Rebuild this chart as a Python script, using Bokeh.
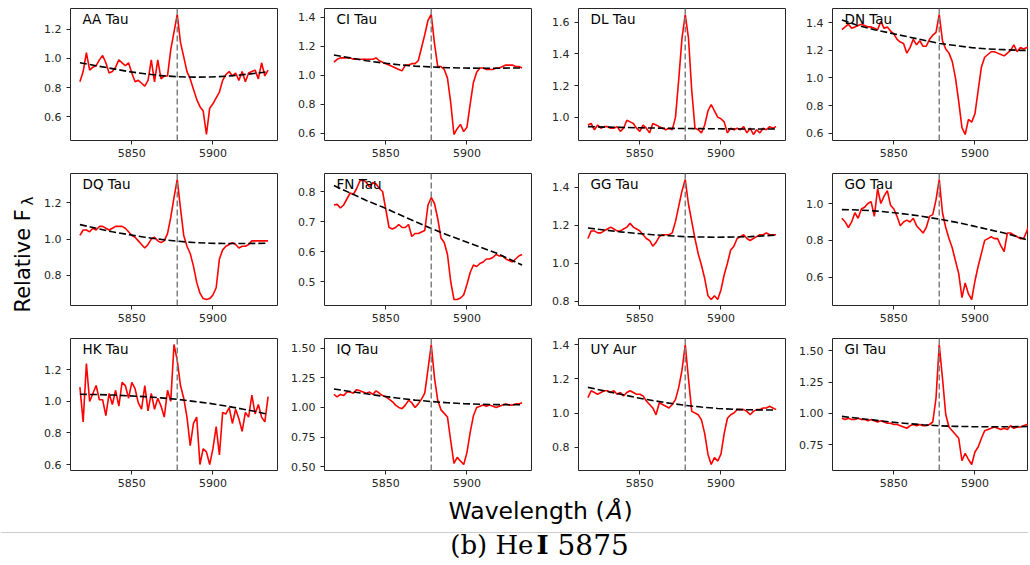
import math
from bokeh.plotting import figure
from bokeh.layouts import row, column
from bokeh.models import Range1d, FixedTicker, Span, Label
from bokeh.core.properties import value
from bokeh.embed import file_html
from bokeh.resources import INLINE

# ---------------- data ----------------
wavelength = [5818, 5820, 5822, 5824, 5826, 5828, 5830, 5832, 5834, 5836,
              5838, 5840, 5842, 5844, 5846, 5848, 5850, 5852, 5854, 5856,
              5858, 5860, 5862, 5864, 5866, 5868, 5870, 5872, 5874, 5876,
              5878, 5880, 5882, 5884, 5886, 5888, 5890, 5892, 5894, 5896,
              5898, 5900, 5902, 5904, 5906, 5908, 5910, 5912, 5914, 5916,
              5918, 5920, 5922, 5924, 5926, 5928, 5930, 5932, 5934]
cont_wavelength = [5818, 5828, 5838, 5848, 5858, 5868, 5878, 5888, 5898, 5908, 5918, 5928, 5934]
he_line = 5878
x_ticks = [5850, 5900]
x_tick_labels = ["5850", "5900"]

names = ["AA Tau", "CI Tau", "DL Tau", "DN Tau",
         "DQ Tau", "FN Tau", "GG Tau", "GO Tau",
         "HK Tau", "IQ Tau", "UY Aur", "GI Tau"]

flux_aa = [0.84, 0.91, 1.04, 0.92, 0.94, 0.95, 0.99, 1.02, 0.97, 0.90,
           0.91, 0.94, 0.99, 0.97, 0.95, 0.97, 0.90, 0.84, 0.85, 0.83,
           0.81, 0.85, 0.99, 0.84, 0.99, 0.86, 0.88, 0.88, 1.06, 1.18,
           1.30, 1.11, 1.01, 0.91, 0.86, 0.79, 0.72, 0.67, 0.64, 0.48,
           0.66, 0.69, 0.73, 0.77, 0.85, 0.89, 0.91, 0.88, 0.90, 0.85,
           0.91, 0.84, 0.90, 0.91, 0.92, 0.86, 0.97, 0.88, 0.92]
flux_ci = [1.09, 1.11, 1.12, 1.12, 1.12, 1.12, 1.11, 1.11, 1.11, 1.11,
           1.11, 1.11, 1.11, 1.12, 1.10, 1.09, 1.08, 1.07, 1.06, 1.05,
           1.04, 1.03, 1.07, 1.07, 1.08, 1.08, 1.10, 1.19, 1.28, 1.38,
           1.42, 1.22, 1.06, 1.06, 1.04, 0.98, 0.81, 0.59, 0.63, 0.66,
           0.61, 0.64, 0.80, 0.95, 1.02, 1.05, 1.05, 1.04, 1.04, 1.04,
           1.05, 1.05, 1.06, 1.07, 1.07, 1.07, 1.06, 1.06, 1.05]
flux_dl = [0.95, 0.96, 0.92, 0.95, 0.93, 0.94, 0.94, 0.93, 0.93, 0.94,
           0.91, 0.93, 0.98, 0.97, 0.96, 0.93, 0.91, 0.95, 0.93, 0.90,
           0.96, 0.95, 0.94, 0.93, 0.92, 0.93, 0.92, 1.00, 1.24, 1.50,
           1.65, 1.50, 1.17, 0.93, 0.92, 0.90, 0.95, 1.04, 1.08, 1.04,
           1.00, 0.99, 0.97, 0.90, 0.93, 0.92, 0.93, 0.92, 0.94, 0.90,
           0.93, 0.89, 0.92, 0.90, 0.93, 0.92, 0.94, 0.93, 0.94]
flux_dn = [1.35, 1.37, 1.39, 1.36, 1.37, 1.38, 1.39, 1.38, 1.37, 1.37,
           1.36, 1.35, 1.41, 1.36, 1.37, 1.34, 1.32, 1.28, 1.26, 1.25,
           1.18, 1.22, 1.28, 1.24, 1.27, 1.23, 1.23, 1.28, 1.31, 1.33,
           1.46, 1.27, 1.21, 1.18, 1.12, 1.00, 0.83, 0.64, 0.59, 0.70,
           0.68, 0.74, 0.91, 1.08, 1.15, 1.17, 1.19, 1.19, 1.18, 1.17,
           1.16, 1.18, 1.20, 1.24, 1.19, 1.22, 1.21, 1.22, 1.22]
flux_dq = [1.02, 1.05, 1.05, 1.04, 1.06, 1.05, 1.07, 1.07, 1.06, 1.05,
           1.06, 1.07, 1.07, 1.07, 1.06, 1.04, 1.02, 1.01, 0.99, 0.97,
           0.95, 0.97, 1.00, 1.01, 0.99, 0.98, 0.99, 1.03, 1.12, 1.23,
           1.33, 1.17, 1.02, 0.96, 0.92, 0.85, 0.76, 0.70, 0.67, 0.665,
           0.67, 0.69, 0.73, 0.89, 0.94, 0.96, 0.97, 0.98, 0.97, 0.95,
           0.96, 0.96, 0.97, 0.99, 0.99, 0.99, 0.99, 0.99, 0.99]
flux_fn = [0.755, 0.757, 0.745, 0.755, 0.775, 0.795, 0.79, 0.81, 0.835, 0.84,
           0.83, 0.815, 0.83, 0.825, 0.81, 0.80, 0.74, 0.68, 0.675, 0.68,
           0.69, 0.68, 0.68, 0.69, 0.65, 0.66, 0.66, 0.665, 0.67, 0.755,
           0.78, 0.76, 0.71, 0.645, 0.63, 0.59, 0.50, 0.44, 0.44, 0.445,
           0.455, 0.49, 0.53, 0.555, 0.55, 0.56, 0.565, 0.575, 0.575, 0.58,
           0.59, 0.585, 0.585, 0.575, 0.57, 0.565, 0.575, 0.585, 0.59]
flux_gg = [1.13, 1.17, 1.17, 1.16, 1.16, 1.17, 1.18, 1.19, 1.18, 1.17,
           1.17, 1.18, 1.19, 1.21, 1.19, 1.18, 1.17, 1.15, 1.13, 1.12,
           1.09, 1.11, 1.14, 1.15, 1.15, 1.15, 1.16, 1.22, 1.30, 1.38,
           1.44, 1.31, 1.22, 1.13, 1.05, 0.99, 0.92, 0.83, 0.81, 0.83,
           0.81, 0.86, 0.94, 1.00, 1.07, 1.09, 1.13, 1.14, 1.15, 1.13,
           1.12, 1.13, 1.14, 1.15, 1.15, 1.16, 1.15, 1.15, 1.15]
flux_go = [0.92, 0.90, 0.87, 0.90, 0.95, 0.92, 0.97, 0.98, 1.00, 1.01,
           0.93, 1.08, 1.00, 1.04, 1.07, 0.99, 0.97, 0.93, 0.88, 0.90,
           0.91, 0.90, 0.92, 0.88, 0.86, 0.84, 0.87, 0.93, 0.94, 1.02,
           1.13, 0.95, 0.87, 0.81, 0.76, 0.69, 0.62, 0.49, 0.57, 0.51,
           0.48, 0.58, 0.66, 0.73, 0.80, 0.81, 0.82, 0.81, 0.81, 0.77,
           0.74, 0.84, 0.84, 0.83, 0.82, 0.81, 0.81, 0.85, 0.90]
flux_hk = [1.09, 0.87, 1.24, 1.00, 1.05, 1.10, 1.01, 1.01, 0.91, 1.05,
           0.98, 1.07, 0.97, 1.12, 1.10, 1.02, 1.12, 1.08, 0.99, 0.95,
           1.10, 0.94, 1.05, 0.95, 1.02, 0.97, 0.90, 1.07, 1.00, 1.36,
           1.26, 1.10, 1.02, 0.90, 0.72, 0.86, 0.90, 0.60, 0.70, 0.68,
           0.60, 0.70, 0.84, 0.66, 0.93, 0.92, 0.96, 0.86, 0.95, 0.89,
           0.81, 0.93, 0.90, 1.04, 0.92, 0.98, 0.90, 0.87, 1.03]
flux_iq = [1.11, 1.09, 1.11, 1.10, 1.13, 1.13, 1.12, 1.15, 1.14, 1.13,
           1.12, 1.13, 1.11, 1.14, 1.12, 1.10, 1.09, 1.07, 1.05, 1.02,
           1.00, 0.99, 1.02, 1.06, 1.04, 1.00, 1.03, 1.07, 1.12, 1.32,
           1.53, 1.25, 1.06, 0.98, 0.95, 0.92, 0.72, 0.53, 0.58, 0.55,
           0.52, 0.62, 0.79, 0.93, 1.00, 1.01, 1.02, 1.01, 1.02, 1.01,
           1.00, 1.01, 1.02, 1.03, 1.02, 1.02, 1.03, 1.03, 1.04]
flux_uy = [1.09, 1.13, 1.12, 1.11, 1.12, 1.13, 1.13, 1.12, 1.13, 1.11,
           1.12, 1.10, 1.12, 1.13, 1.12, 1.11, 1.11, 1.10, 1.07, 1.05,
           1.03, 0.99, 1.06, 1.05, 1.04, 1.03, 1.05, 1.08, 1.15, 1.25,
           1.40, 1.20, 1.01, 1.00, 0.99, 0.96, 0.88, 0.76, 0.70, 0.74,
           0.72, 0.76, 0.88, 0.97, 0.99, 1.00, 1.02, 1.02, 1.02, 1.01,
           0.99, 1.01, 1.02, 1.02, 1.03, 1.03, 1.04, 1.03, 1.02]
flux_gi = [0.96, 0.95, 0.96, 0.95, 0.95, 0.96, 0.95, 0.95, 0.94, 0.95,
           0.94, 0.93, 0.94, 0.93, 0.92, 0.92, 0.91, 0.91, 0.90, 0.89,
           0.88, 0.90, 0.91, 0.90, 0.91, 0.90, 0.90, 0.91, 0.93, 1.12,
           1.55, 1.28, 0.99, 0.89, 0.86, 0.83, 0.80, 0.62, 0.68, 0.63,
           0.59, 0.69, 0.73, 0.80, 0.86, 0.87, 0.88, 0.89, 0.88, 0.87,
           0.88, 0.87, 0.90, 0.88, 0.89, 0.89, 0.90, 0.91, 0.91]

cont_aa = [0.97, 0.95, 0.93, 0.91, 0.895, 0.882, 0.875, 0.872, 0.873, 0.878, 0.888, 0.90, 0.91]
cont_ci = [1.14, 1.12, 1.10, 1.085, 1.072, 1.063, 1.057, 1.052, 1.05, 1.048, 1.048, 1.05, 1.05]
cont_dl = [0.94, 0.937, 0.935, 0.933, 0.931, 0.929, 0.928, 0.927, 0.926, 0.925, 0.925, 0.925, 0.925]
cont_dn = [1.42, 1.38, 1.35, 1.325, 1.30, 1.275, 1.25, 1.235, 1.22, 1.21, 1.205, 1.20, 1.20]
cont_dq = [1.08, 1.06, 1.04, 1.025, 1.01, 0.998, 0.988, 0.981, 0.977, 0.975, 0.975, 0.976, 0.977]
cont_fn = [0.82, 0.795, 0.77, 0.748, 0.724, 0.70, 0.677, 0.655, 0.635, 0.615, 0.595, 0.57, 0.555]
cont_gg = [1.185, 1.175, 1.165, 1.157, 1.15, 1.145, 1.14, 1.138, 1.137, 1.138, 1.14, 1.145, 1.148]
cont_go = [0.967, 0.965, 0.96, 0.952, 0.942, 0.93, 0.915, 0.899, 0.88, 0.86, 0.84, 0.815, 0.797]
cont_hk = [1.045, 1.043, 1.04, 1.035, 1.03, 1.022, 1.013, 1.0, 0.987, 0.97, 0.952, 0.932, 0.918]
cont_iq = [1.155, 1.135, 1.115, 1.095, 1.078, 1.062, 1.05, 1.04, 1.032, 1.027, 1.024, 1.023, 1.023]
cont_uy = [1.15, 1.13, 1.11, 1.09, 1.073, 1.058, 1.045, 1.035, 1.027, 1.022, 1.019, 1.018, 1.018]
cont_gi = [0.975, 0.96, 0.945, 0.93, 0.918, 0.908, 0.90, 0.895, 0.893, 0.892, 0.892, 0.893, 0.895]

yticks_aa = [0.6, 0.8, 1.0, 1.2]; ylabels_aa = ["0.6", "0.8", "1.0", "1.2"]
yticks_ci = [0.6, 0.8, 1.0, 1.2, 1.4]; ylabels_ci = ["0.6", "0.8", "1.0", "1.2", "1.4"]
yticks_dl = [1.0, 1.2, 1.4, 1.6]; ylabels_dl = ["1.0", "1.2", "1.4", "1.6"]
yticks_dn = [0.6, 0.8, 1.0, 1.2, 1.4]; ylabels_dn = ["0.6", "0.8", "1.0", "1.2", "1.4"]
yticks_dq = [0.8, 1.0, 1.2]; ylabels_dq = ["0.8", "1.0", "1.2"]
yticks_fn = [0.5, 0.6, 0.7, 0.8]; ylabels_fn = ["0.5", "0.6", "0.7", "0.8"]
yticks_gg = [0.8, 1.0, 1.2, 1.4]; ylabels_gg = ["0.8", "1.0", "1.2", "1.4"]
yticks_go = [0.6, 0.8, 1.0]; ylabels_go = ["0.6", "0.8", "1.0"]
yticks_hk = [0.6, 0.8, 1.0, 1.2]; ylabels_hk = ["0.6", "0.8", "1.0", "1.2"]
yticks_iq = [0.5, 0.75, 1.0, 1.25, 1.5]; ylabels_iq = ["0.50", "0.75", "1.00", "1.25", "1.50"]
yticks_uy = [0.8, 1.0, 1.2, 1.4]; ylabels_uy = ["0.8", "1.0", "1.2", "1.4"]
yticks_gi = [0.75, 1.0, 1.25, 1.5]; ylabels_gi = ["0.75", "1.00", "1.25", "1.50"]

fluxes = [flux_aa, flux_ci, flux_dl, flux_dn, flux_dq, flux_fn,
          flux_gg, flux_go, flux_hk, flux_iq, flux_uy, flux_gi]
conts = [cont_aa, cont_ci, cont_dl, cont_dn, cont_dq, cont_fn,
         cont_gg, cont_go, cont_hk, cont_iq, cont_uy, cont_gi]
yticks = [yticks_aa, yticks_ci, yticks_dl, yticks_dn, yticks_dq, yticks_fn,
          yticks_gg, yticks_go, yticks_hk, yticks_iq, yticks_uy, yticks_gi]
ylabels = [ylabels_aa, ylabels_ci, ylabels_dl, ylabels_dn, ylabels_dq, ylabels_fn,
           ylabels_gg, ylabels_go, ylabels_hk, ylabels_iq, ylabels_uy, ylabels_gi]

# ---------------- layout / style ----------------
FONT = "DejaVu Sans"
SERIF = "DejaVu Serif"
FRAME_W = 207
FRAME_H = 132
YLAB_W = 38
col_left = [32, 46, 46, 46]
col_right = [1, 1, 1, 0]
col_frame = [207, 207, 207, 196]
row_top = 8
row_bottom = [25, 25, 22]

x0, x1 = min(wavelength), max(wavelength)
xpad = 0.05 * (x1 - x0)
x_start = x0 - xpad
x_full_end = x1 + xpad
px_per_x = FRAME_W / (x_full_end - x_start)


def make_panel(i):
    r, c = divmod(i, 4)
    flux = fluxes[i]
    cont = conts[i]
    n = min(len(wavelength), len(flux))
    wl = wavelength[:n]
    fl = flux[:n]
    m = min(len(cont_wavelength), len(cont))
    lo = min(min(fl), min(cont[:m]))
    hi = max(max(fl), max(cont[:m]))
    ypad = 0.05 * (hi - lo)
    y0, y1 = lo - ypad, hi + ypad
    x_end = x_start + col_frame[c] / px_per_x
    p = figure(width=col_left[c] + col_frame[c] + col_right[c],
               height=row_top + FRAME_H + row_bottom[r],
               x_range=Range1d(x_start, x_end), y_range=Range1d(y0, y1),
               output_backend="svg", toolbar_location=None,
               min_border_left=col_left[c], min_border_right=col_right[c],
               min_border_top=row_top, min_border_bottom=row_bottom[r])
    p.xgrid.visible = False
    p.ygrid.visible = False
    p.outline_line_color = "#262626"
    p.outline_line_width = 1
    p.background_fill_color = "white"
    p.border_fill_color = "white"

    p.line(wl, fl, line_color="red", line_width=1.6)
    p.line(cont_wavelength[:m], cont[:m], line_color="black", line_width=1.6, line_dash="7 3")
    p.add_layout(Span(location=he_line, dimension="height", line_color="gray",
                      line_width=1.5, line_dash="6 3"))

    p.xaxis.ticker = FixedTicker(ticks=x_ticks)
    p.xaxis.major_label_overrides = dict(zip(x_ticks, x_tick_labels))
    p.yaxis.ticker = FixedTicker(ticks=yticks[i])
    p.yaxis.major_label_overrides = dict(zip(yticks[i], ylabels[i]))
    for ax in (p.xaxis, p.yaxis):
        ax.axis_line_color = None
        ax.major_tick_line_color = "#262626"
        ax.major_tick_in = 0
        ax.major_tick_out = 4
        ax.minor_tick_line_color = None
        ax.major_label_text_font = FONT
        ax.major_label_text_font_size = "11px"
        ax.major_label_text_color = "#262626"
    p.xaxis.major_label_standoff = 4
    p.yaxis.major_label_standoff = 5

    py = FRAME_H / (y1 - y0)
    p.add_layout(Label(x=x_start + 12 / px_per_x, y=y1 - 10 / py, text=names[i],
                       text_font=FONT, text_font_size="13.5px", text_color="black",
                       text_baseline="alphabetic", text_align="left"))
    return p


panels = [make_panel(i) for i in range(12)]
grid = column(row(*panels[0:4]), row(*panels[4:8]), row(*panels[8:12]))


def blank(w, h):
    f = figure(width=w, height=h, x_range=Range1d(0, w), y_range=Range1d(0, h),
               output_backend="svg", toolbar_location=None,
               x_axis_location=None, y_axis_location=None, min_border=0)
    f.grid.visible = False
    f.outline_line_color = None
    return f


GRID_H = sum(row_top + FRAME_H + b for b in row_bottom)
ylab = blank(YLAB_W, GRID_H)
ylab.text(x=[22], y=[GRID_H - 312], text=["Relative F"], angle=math.pi / 2,
          text_font=value(FONT), text_font_size=value("21px"), text_color="black",
          text_align=value("left"), text_baseline=value("alphabetic"))
ylab.text(x=[27], y=[GRID_H - 205], text=["λ"], angle=math.pi / 2,
          text_font=value(FONT), text_font_size=value("15px"), text_color="black",
          text_align=value("left"), text_baseline=value("alphabetic"))

TOTAL_W = YLAB_W + sum(col_left) + sum(col_frame) + sum(col_right)
BOT_H = 563 - GRID_H
bot = blank(TOTAL_W, BOT_H)


def by(page_y):
    return 563 - page_y


bot.text(x=[448], y=[by(510)], text=["Wavelength ("], text_font=value(FONT),
         text_font_size=value("23.5px"), text_color="black",
         text_align=value("left"), text_baseline=value("alphabetic"))
bot.text(x=[606], y=[by(510)], text=["Å"], text_font=value(FONT), text_font_style=value("italic"),
         text_font_size=value("23.5px"), text_color="black",
         text_align=value("left"), text_baseline=value("alphabetic"))
bot.text(x=[623], y=[by(510)], text=[")"], text_font=value(FONT),
         text_font_size=value("23.5px"), text_color="black",
         text_align=value("left"), text_baseline=value("alphabetic"))
bot.add_layout(Span(location=by(532), dimension="width", line_color="#cccccc", line_width=1))
bot.text(x=[533], y=[by(544)], text=["(b) He"], text_font=value(SERIF),
         text_font_size=value("26px"), text_color="black",
         text_align=value("right"), text_baseline=value("alphabetic"))
bot.text(x=[536], y=[by(544)], text=["I"], text_font=value(SERIF), text_font_style=value("bold"),
         text_font_size=value("26px"), text_color="black",
         text_align=value("left"), text_baseline=value("alphabetic"))
bot.text(x=[557], y=[by(544)], text=["5875"], text_font=value(SERIF),
         text_font_size=value("28px"), text_color="black",
         text_align=value("left"), text_baseline=value("alphabetic"))

layout = column(row(ylab, grid), bot)

open("out.html", "w").write(file_html(layout, INLINE))
